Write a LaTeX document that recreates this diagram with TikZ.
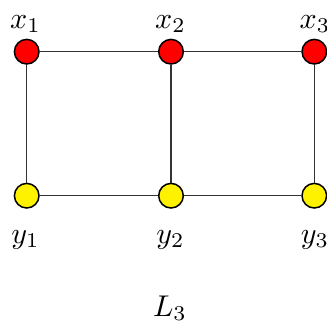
\documentclass[tikz,border=0pt]{standalone}
\begin{document}
\begin{tikzpicture}[x=0.3333pt,y=-0.3333pt,
  vred/.style={circle,draw=black,fill=red,minimum size=8.2pt,inner sep=0pt,line width=0.5pt},
  vyel/.style={circle,draw=black,fill=yellow,minimum size=8.2pt,inner sep=0pt,line width=0.5pt},
  lab/.style={anchor=base,inner sep=0pt},
  edge/.style={line width=0.5pt,draw=black!80}]
\useasboundingbox (0,0) rectangle (327,322);
\node[vred] (x1) at (26.7,51.7) {};
\node[vred] (x2) at (171,51.7) {};
\node[vred] (x3) at (314.3,51.7) {};
\node[vyel] (y1) at (26.7,195.7) {};
\node[vyel] (y2) at (171,195.7) {};
\node[vyel] (y3) at (314.3,195.7) {};
\draw[edge] (x1) -- (x2);
\draw[edge] (x2) -- (x3);
\draw[edge] (y1) -- (y2);
\draw[edge] (y2) -- (y3);
\draw[edge] (x1) -- (y1);
\draw[edge] (x2) -- (y2);
\draw[edge] (x3) -- (y3);
\node[lab] (lx1) at (25.5,28.5) {$x_1$};
\node[lab] (lx2) at (170.5,28.5) {$x_2$};
\node[lab] (lx3) at (315,28.5) {$x_3$};
\node[lab] (ly1) at (25.5,243) {$y_1$};
\node[lab] (ly2) at (170.5,243) {$y_2$};
\node[lab] (ly3) at (315,243) {$y_3$};
\node[lab] (L) at (170,316) {$L_3$};
\end{tikzpicture}
\end{document}
